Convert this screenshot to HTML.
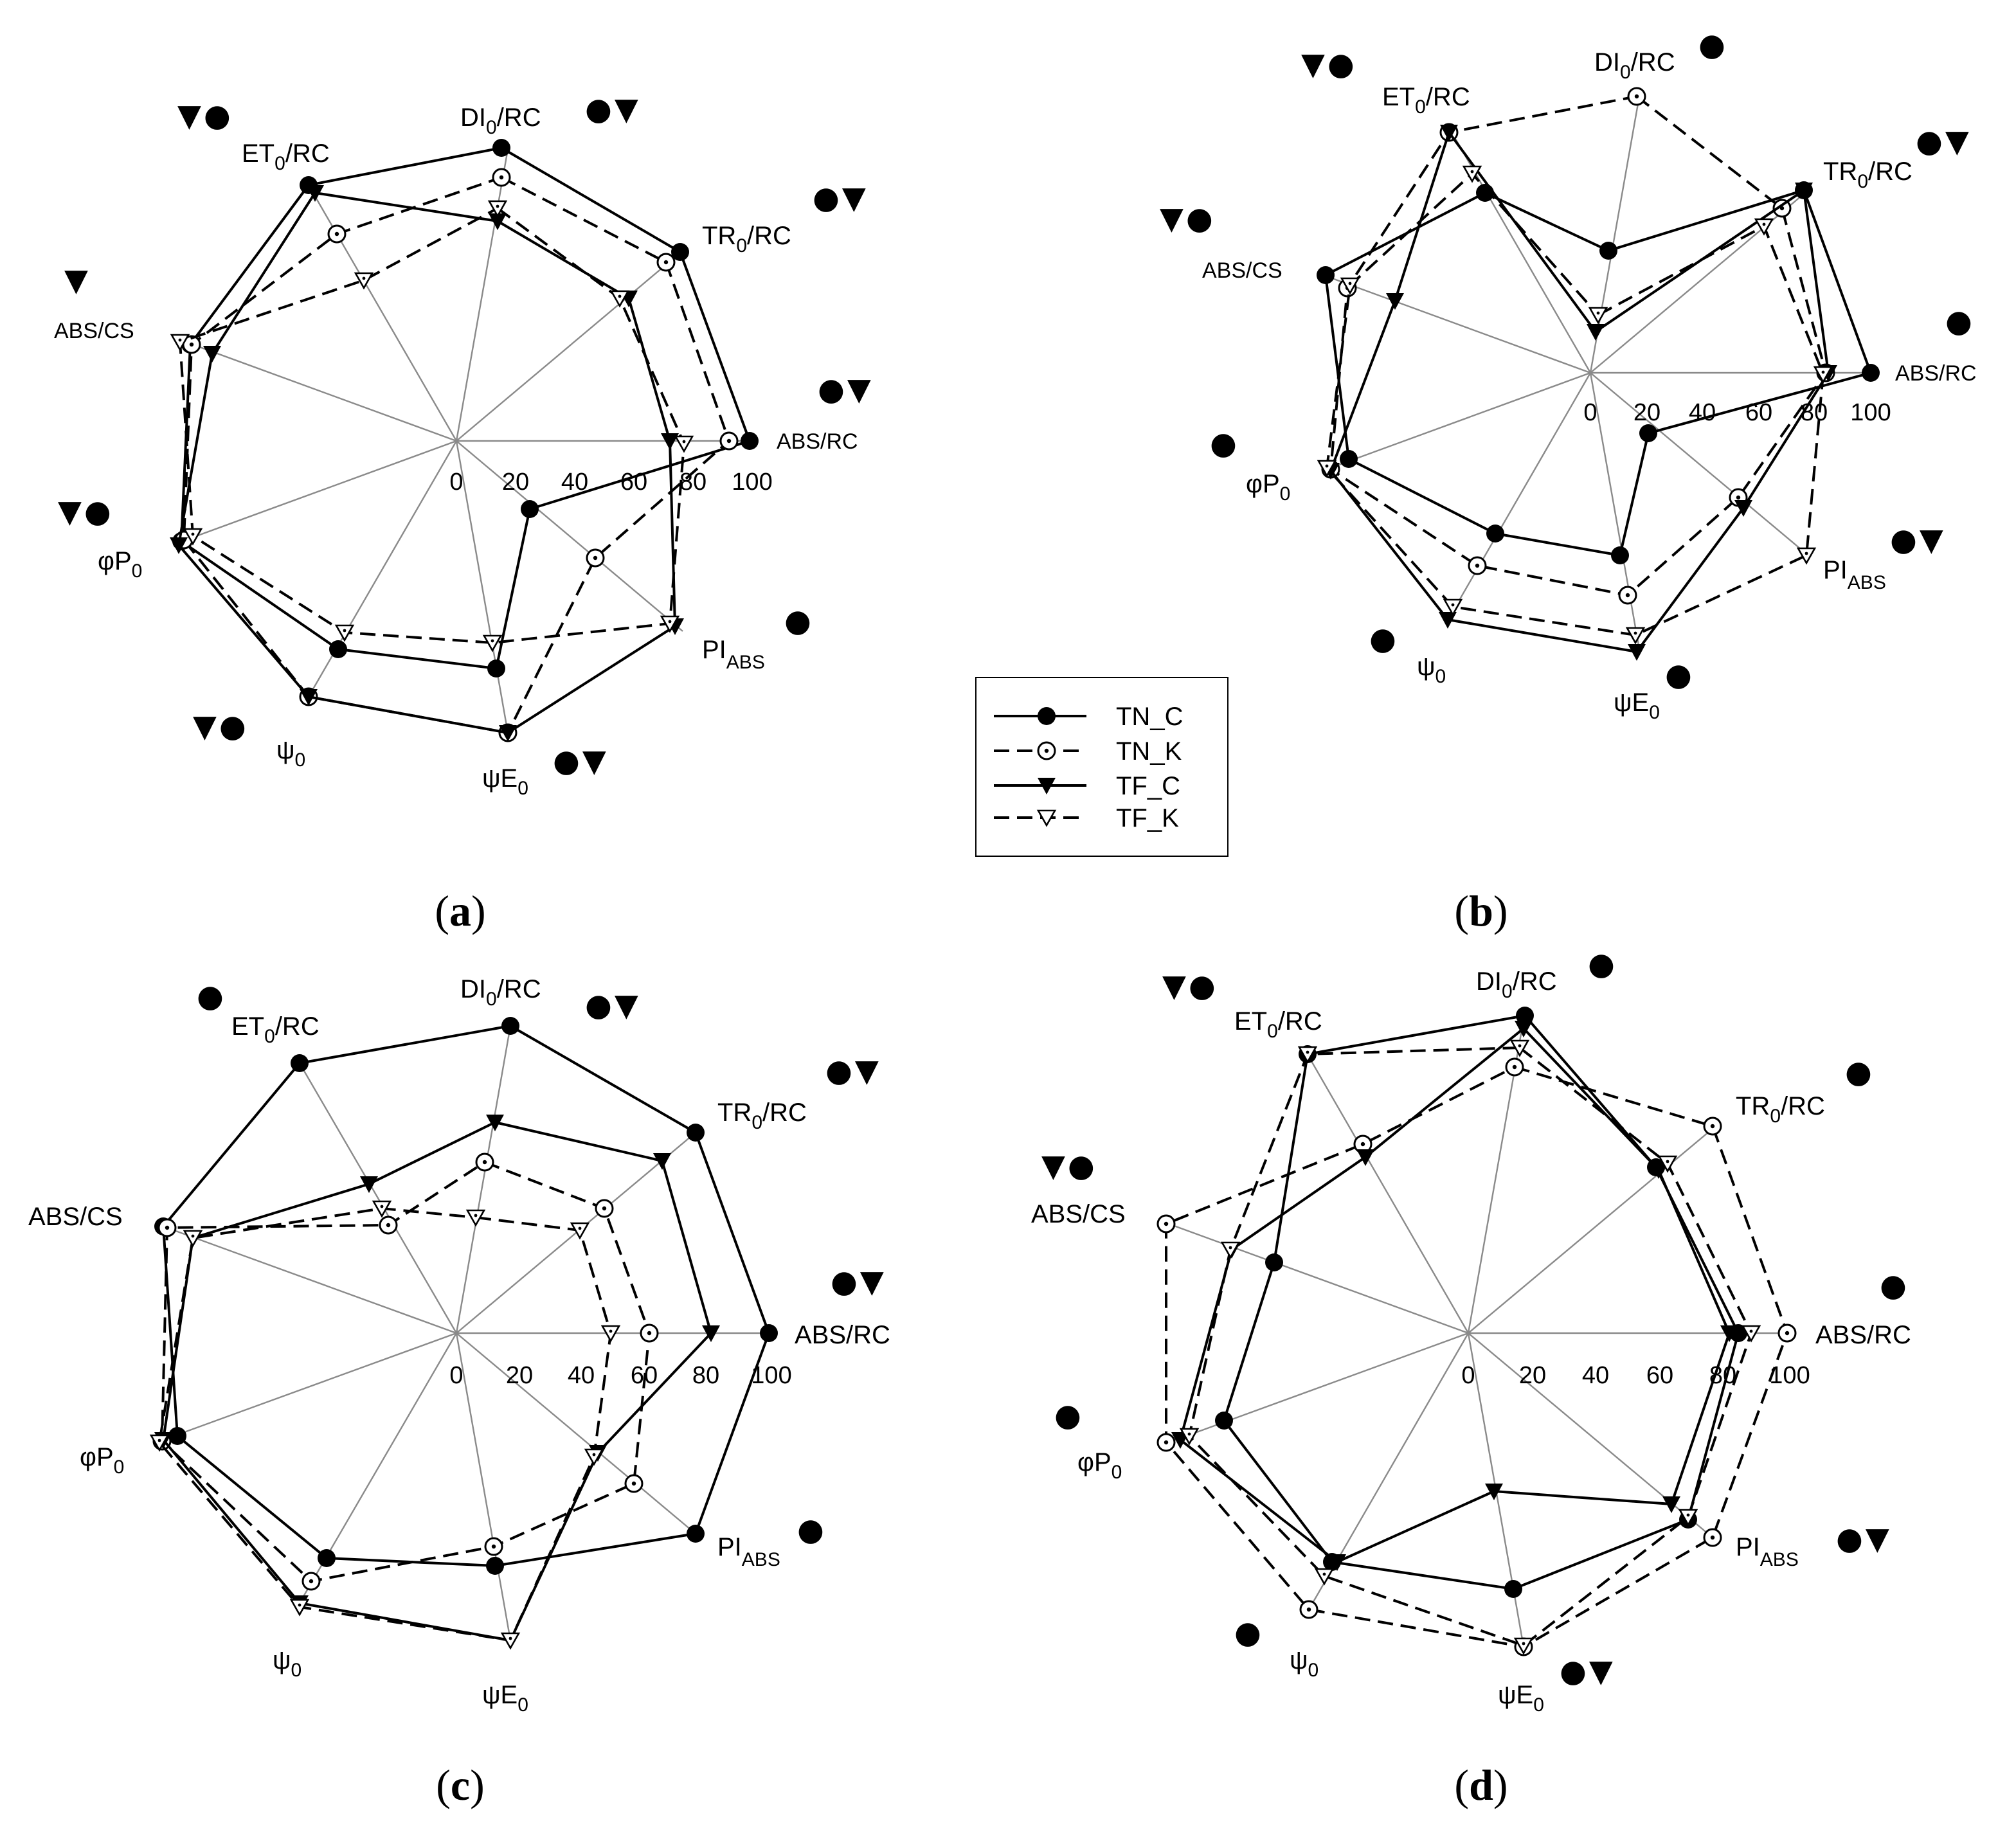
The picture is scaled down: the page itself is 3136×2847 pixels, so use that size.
<!DOCTYPE html>
<html><head><meta charset="utf-8"><style>
html,body{margin:0;padding:0;background:#fff}
svg{display:block}
text{font-family:"Liberation Sans",Arial,sans-serif;fill:#000}
.l{font-size:20px}
.s{font-size:17px}
.t{font-size:19px;text-anchor:middle}
.m{font-family:"DejaVu Sans",sans-serif;font-size:24px;letter-spacing:2px}
.cap{font-family:"Liberation Serif",serif;font-size:34px;text-anchor:middle}
.ax{stroke:#8a8a8a;stroke-width:1.2;fill:none}
.sol{fill:none;stroke:#000;stroke-width:2}
.das{fill:none;stroke:#000;stroke-width:2;stroke-dasharray:12 6}
</style></head><body>
<svg width="3136" height="2847" viewBox="0 0 1568 1423.5" xmlns="http://www.w3.org/2000/svg">
<defs>
<marker id="fc" markerWidth="18" markerHeight="18" refX="9" refY="9" markerUnits="userSpaceOnUse"><circle cx="9" cy="9" r="7" fill="#000"/></marker>
<marker id="oc" markerWidth="18" markerHeight="18" refX="9" refY="9" markerUnits="userSpaceOnUse"><circle cx="9" cy="9" r="6.5" fill="#fff" stroke="#000" stroke-width="1.5"/><circle cx="9" cy="9" r="1.6" fill="#000"/></marker>
<marker id="ft" markerWidth="18" markerHeight="18" refX="9" refY="9" markerUnits="userSpaceOnUse"><polygon points="2,3 16,3 9,16" fill="#000"/></marker>
<marker id="ot" markerWidth="18" markerHeight="18" refX="9" refY="9" markerUnits="userSpaceOnUse"><polygon points="2.5,3.5 15.5,3.5 9,15" fill="#fff" stroke="#000" stroke-width="1.3"/><circle cx="9" cy="7.5" r="1.2" fill="#000"/></marker>
</defs>
<rect width="1568" height="1423.5" fill="#fff"/>

<!-- ===== (a) ===== -->
<g class="ax">
<polyline points="355,343 585,343"/><polyline points="355,343 531,195"/><polyline points="355,343 395,116"/>
<polyline points="355,343 240,144"/><polyline points="355,343 139,264"/><polyline points="355,343 139,422"/>
<polyline points="355,343 240,542"/><polyline points="355,343 395,570"/><polyline points="355,343 531,491"/>
</g>
<polygon class="sol" marker-start="url(#fc)" marker-mid="url(#fc)" points="390,115 529,196 583,343 412,396 386,520 263,505 141,421 148,268 240,144"/>
<polygon class="das" marker-start="url(#oc)" marker-mid="url(#oc)" points="390,138 518,204 567,343 463,434 395,570 240,542 143,420 149,268 262,182"/>
<polygon class="sol" marker-start="url(#ft)" marker-mid="url(#ft)" points="387,172 489,232 521,343 525,487 395,570 240,542 139,424 165,275 245,150"/>
<polygon class="das" marker-start="url(#ot)" marker-mid="url(#ot)" points="387,162 482,232 532,345 521,485 383,500 268,492 150,417 140,266 283,218"/>
<text class="t" x="355" y="381">0</text><text class="t" x="401" y="381">20</text><text class="t" x="447" y="381">40</text><text class="t" x="493" y="381">60</text><text class="t" x="539" y="381">80</text><text class="t" x="585" y="381">100</text>
<text class="l" x="358" y="98">DI<tspan dy="6" font-size="15">0</tspan><tspan dy="-6">/RC</tspan></text>
<text class="l" x="546" y="190">TR<tspan dy="6" font-size="15">0</tspan><tspan dy="-6">/RC</tspan></text>
<text class="s" x="604" y="349">ABS/RC</text>
<text class="l" x="546" y="512">PI<tspan dy="8" font-size="15">ABS</tspan></text>
<text class="l" x="375" y="612">ψE<tspan dy="6" font-size="15">0</tspan></text>
<text class="l" x="215" y="590">ψ<tspan dy="6" font-size="15">0</tspan></text>
<text class="l" x="76" y="443">φP<tspan dy="6" font-size="15">0</tspan></text>
<text class="s" x="42" y="263">ABS/CS</text>
<text class="l" x="188" y="126">ET<tspan dy="6" font-size="15">0</tspan><tspan dy="-6">/RC</tspan></text>
<text class="m" x="455" y="93">●▼</text>
<text class="m" x="632" y="162">●▼</text>
<text class="m" x="636" y="311">●▼</text>
<text class="m" x="610" y="491">●</text>
<text class="m" x="430" y="600">●▼</text>
<text class="m" x="150" y="573">▼●</text>
<text class="m" x="45" y="406">▼●</text>
<text class="m" x="50" y="226">▼</text>
<text class="m" x="138" y="98">▼●</text>
<text class="cap" x="358" y="720">(<tspan font-weight="bold">a</tspan>)</text>

<!-- ===== (b) ===== -->
<g class="ax">
<polyline points="1237,290 1455,290"/><polyline points="1237,290 1404,150"/><polyline points="1237,290 1275,75"/>
<polyline points="1237,290 1128,101"/><polyline points="1237,290 1032,215"/><polyline points="1237,290 1032,365"/>
<polyline points="1237,290 1128,479"/><polyline points="1237,290 1275,505"/><polyline points="1237,290 1404,430"/>
</g>
<polygon class="sol" marker-start="url(#fc)" marker-mid="url(#fc)" points="1251,195 1403,148 1455,290 1282,337 1260,432 1163,415 1049,357 1031,214 1155,150"/>
<polygon class="das" marker-start="url(#oc)" marker-mid="url(#oc)" points="1273,75 1386,162 1420,290 1352,387 1266,463 1149,440 1035,365 1048,224 1127,103"/>
<polygon class="sol" marker-start="url(#ft)" marker-mid="url(#ft)" points="1241,258 1403,148 1422,290 1356,395 1273,507 1126,482 1035,366 1085,234 1127,103"/>
<polygon class="das" marker-start="url(#ot)" marker-mid="url(#ot)" points="1243,245 1372,176 1418,291 1405,432 1272,494 1130,472 1032,364 1050,222 1145,135"/>
<text class="t" x="1237" y="327">0</text><text class="t" x="1281" y="327">20</text><text class="t" x="1324" y="327">40</text><text class="t" x="1368" y="327">60</text><text class="t" x="1411" y="327">80</text><text class="t" x="1455" y="327">100</text>
<text class="l" x="1240" y="55">DI<tspan dy="6" font-size="15">0</tspan><tspan dy="-6">/RC</tspan></text>
<text class="l" x="1418" y="140">TR<tspan dy="6" font-size="15">0</tspan><tspan dy="-6">/RC</tspan></text>
<text class="s" x="1474" y="296">ABS/RC</text>
<text class="l" x="1418" y="450">PI<tspan dy="8" font-size="15">ABS</tspan></text>
<text class="l" x="1255" y="553">ψE<tspan dy="6" font-size="15">0</tspan></text>
<text class="l" x="1102" y="525">ψ<tspan dy="6" font-size="15">0</tspan></text>
<text class="l" x="969" y="383">φP<tspan dy="6" font-size="15">0</tspan></text>
<text class="s" x="935" y="216">ABS/CS</text>
<text class="l" x="1075" y="82">ET<tspan dy="6" font-size="15">0</tspan><tspan dy="-6">/RC</tspan></text>
<text class="m" x="1321" y="43">●</text>
<text class="m" x="1012" y="58">▼●</text>
<text class="m" x="1490" y="118">●▼</text>
<text class="m" x="902" y="178">▼●</text>
<text class="m" x="1513" y="258">●</text>
<text class="m" x="941" y="353">●</text>
<text class="m" x="1470" y="428">●▼</text>
<text class="m" x="1065" y="505">●</text>
<text class="m" x="1295" y="533">●</text>
<text class="cap" x="1152" y="720">(<tspan font-weight="bold">b</tspan>)</text>

<!-- legend -->
<rect x="759" y="527" width="196" height="139" fill="#fff" stroke="#000" stroke-width="1"/>
<line x1="773" y1="557" x2="845" y2="557" stroke="#000" stroke-width="2"/><circle cx="814" cy="557" r="7" fill="#000"/>
<line x1="773" y1="584" x2="845" y2="584" stroke="#000" stroke-width="2" stroke-dasharray="12 6"/><circle cx="814" cy="584" r="6.5" fill="#fff" stroke="#000" stroke-width="1.5"/><circle cx="814" cy="584" r="1.6"/>
<line x1="773" y1="611" x2="845" y2="611" stroke="#000" stroke-width="2"/><polygon points="807,605 821,605 814,618"/>
<line x1="773" y1="636" x2="845" y2="636" stroke="#000" stroke-width="2" stroke-dasharray="12 6"/><polygon points="807.5,630.5 820.5,630.5 814,642" fill="#fff" stroke="#000" stroke-width="1.3"/>
<text class="l" x="868" y="564">TN_C</text>
<text class="l" x="868" y="591">TN_K</text>
<text class="l" x="868" y="618">TF_C</text>
<text class="l" x="868" y="643">TF_K</text>

<!-- ===== (c) ===== -->
<g class="ax">
<polyline points="355,1037 598,1037"/><polyline points="355,1037 541,881"/><polyline points="355,1037 397,798"/>
<polyline points="355,1037 233,827"/><polyline points="355,1037 127,954"/><polyline points="355,1037 127,1120"/>
<polyline points="355,1037 233,1247"/><polyline points="355,1037 397,1276"/><polyline points="355,1037 541,1193"/>
</g>
<polygon class="sol" marker-start="url(#fc)" marker-mid="url(#fc)" points="397,798 541,881 598,1037 541,1193 385,1218 254,1212 138,1117 127,954 233,827"/>
<polygon class="das" marker-start="url(#oc)" marker-mid="url(#oc)" points="377,904 470,940 505,1037 493,1154 384,1203 242,1230 126,1121 130,955 302,953"/>
<polygon class="sol" marker-start="url(#ft)" marker-mid="url(#ft)" points="385,873 515,903 553,1037 465,1130 397,1276 233,1247 127,1120 150,963 287,921"/>
<polygon class="das" marker-start="url(#ot)" marker-mid="url(#ot)" points="370,947 451,957 475,1037 462,1133 397,1276 233,1250 124,1122 150,963 297,940"/>
<text class="t" x="355" y="1076">0</text><text class="t" x="404" y="1076">20</text><text class="t" x="452" y="1076">40</text><text class="t" x="501" y="1076">60</text><text class="t" x="549" y="1076">80</text><text class="t" x="600" y="1076">100</text>
<text class="l" x="358" y="776">DI<tspan dy="6" font-size="15">0</tspan><tspan dy="-6">/RC</tspan></text>
<text class="l" x="558" y="872">TR<tspan dy="6" font-size="15">0</tspan><tspan dy="-6">/RC</tspan></text>
<text class="l" x="618" y="1045">ABS/RC</text>
<text class="l" x="558" y="1210">PI<tspan dy="8" font-size="15">ABS</tspan></text>
<text class="l" x="375" y="1325">ψE<tspan dy="6" font-size="15">0</tspan></text>
<text class="l" x="212" y="1298">ψ<tspan dy="6" font-size="15">0</tspan></text>
<text class="l" x="62" y="1140">φP<tspan dy="6" font-size="15">0</tspan></text>
<text class="l" x="22" y="953">ABS/CS</text>
<text class="l" x="180" y="805">ET<tspan dy="6" font-size="15">0</tspan><tspan dy="-6">/RC</tspan></text>
<text class="m" x="455" y="790">●▼</text>
<text class="m" x="642" y="841">●▼</text>
<text class="m" x="646" y="1005">●▼</text>
<text class="m" x="620" y="1198">●</text>
<text class="m" x="153" y="783">●</text>
<text class="cap" x="358" y="1400">(<tspan font-weight="bold">c</tspan>)</text>

<!-- ===== (d) ===== -->
<g class="ax">
<polyline points="1142,1037 1390,1037"/><polyline points="1142,1037 1332,878"/><polyline points="1142,1037 1185,793"/>
<polyline points="1142,1037 1018,822"/><polyline points="1142,1037 909,952"/><polyline points="1142,1037 909,1122"/>
<polyline points="1142,1037 1018,1252"/><polyline points="1142,1037 1185,1281"/><polyline points="1142,1037 1332,1196"/>
</g>
<polygon class="sol" marker-start="url(#fc)" marker-mid="url(#fc)" points="1186,790 1288,908 1352,1037 1313,1182 1177,1236 1036,1215 952,1105 991,982 1017,820"/>
<polygon class="das" marker-start="url(#oc)" marker-mid="url(#oc)" points="1178,830 1332,876 1390,1037 1332,1196 1185,1281 1018,1252 907,1122 907,952 1060,890"/>
<polygon class="sol" marker-start="url(#ft)" marker-mid="url(#ft)" points="1185,800 1290,910 1345,1037 1300,1170 1162,1160 1040,1215 918,1120 958,972 1062,900"/>
<polygon class="das" marker-start="url(#ot)" marker-mid="url(#ot)" points="1182,815 1297,905 1362,1037 1313,1180 1185,1280 1030,1226 925,1117 957,972 1017,820"/>
<text class="t" x="1142" y="1076">0</text><text class="t" x="1192" y="1076">20</text><text class="t" x="1241" y="1076">40</text><text class="t" x="1291" y="1076">60</text><text class="t" x="1340" y="1076">80</text><text class="t" x="1392" y="1076">100</text>
<text class="l" x="1148" y="770">DI<tspan dy="6" font-size="15">0</tspan><tspan dy="-6">/RC</tspan></text>
<text class="l" x="1350" y="867">TR<tspan dy="6" font-size="15">0</tspan><tspan dy="-6">/RC</tspan></text>
<text class="l" x="1412" y="1045">ABS/RC</text>
<text class="l" x="1350" y="1210">PI<tspan dy="8" font-size="15">ABS</tspan></text>
<text class="l" x="1165" y="1325">ψE<tspan dy="6" font-size="15">0</tspan></text>
<text class="l" x="1003" y="1298">ψ<tspan dy="6" font-size="15">0</tspan></text>
<text class="l" x="838" y="1144">φP<tspan dy="6" font-size="15">0</tspan></text>
<text class="l" x="802" y="951">ABS/CS</text>
<text class="l" x="960" y="801">ET<tspan dy="6" font-size="15">0</tspan><tspan dy="-6">/RC</tspan></text>
<text class="m" x="1235" y="758">●</text>
<text class="m" x="904" y="775">▼●</text>
<text class="m" x="1435" y="842">●</text>
<text class="m" x="810" y="915">▼●</text>
<text class="m" x="1462" y="1008">●</text>
<text class="m" x="820" y="1109">●</text>
<text class="m" x="1428" y="1205">●▼</text>
<text class="m" x="960" y="1278">●</text>
<text class="m" x="1213" y="1308">●▼</text>
<text class="cap" x="1152" y="1400">(<tspan font-weight="bold">d</tspan>)</text>
</svg>
</body></html>
